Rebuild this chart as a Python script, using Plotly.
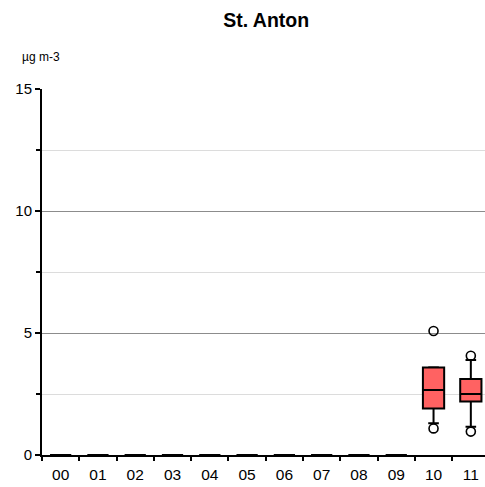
import plotly.graph_objects as go

categories = ["00", "01", "02", "03", "04", "05", "06", "07", "08", "09", "10", "11"]
q1 = [0, 0, 0, 0, 0, 0, 0, 0, 0, 0, 1.91, 2.19]
median = [0, 0, 0, 0, 0, 0, 0, 0, 0, 0, 2.66, 2.50]
q3 = [0, 0, 0, 0, 0, 0, 0, 0, 0, 0, 3.59, 3.11]
lowerfence = [0, 0, 0, 0, 0, 0, 0, 0, 0, 0, 1.30, 1.16]
upperfence = [0, 0, 0, 0, 0, 0, 0, 0, 0, 0, 3.60, 3.89]
outlier_x = ["10", "10", "11", "11"]
outlier_y = [5.08, 1.09, 4.07, 0.96]

FONT = "Liberation Sans, Arial, sans-serif"

fig = go.Figure()
fig.add_trace(go.Box(
    x=categories, q1=q1, median=median, q3=q3,
    lowerfence=lowerfence, upperfence=upperfence,
    width=0.57, whiskerwidth=0.5,
    fillcolor="#FF6262", line=dict(color="black", width=2),
    boxpoints=False, showlegend=False, hoverinfo="skip",
))
fig.add_trace(go.Scatter(
    x=outlier_x, y=outlier_y, mode="markers",
    marker=dict(symbol="circle-open", size=9, color="black", line=dict(width=1.6, color="black")),
    showlegend=False, hoverinfo="skip",
))

fig.update_layout(
    width=485, height=487,
    margin=dict(l=42, r=0, t=89, b=32),
    paper_bgcolor="white", plot_bgcolor="white",
    font=dict(family=FONT, size=15, color="black"),
    title=dict(text="<b>St. Anton</b>", x=0.506, xref="paper", xanchor="center",
               y=0.958, yanchor="middle", font=dict(size=19.5, color="black")),
    annotations=[dict(text="µg m-3", xref="paper", yref="paper", x=-0.0497, y=1.0874,
                      xanchor="left", yanchor="middle",
                      showarrow=False, font=dict(size=12))],
)

fig.update_xaxes(
    type="category", categoryorder="array", categoryarray=categories,
    range=[-0.5, 11.38], showgrid=False, zeroline=False,
    showline=True, linecolor="black", linewidth=2,
    ticks="outside", tickson="boundaries", ticklen=4, tickwidth=1.5, tickcolor="black",
    tickfont=dict(size=15.5), ticklabelstandoff=4,
)
fig.update_yaxes(
    range=[0, 15], tickvals=[0, 5, 10, 15], showgrid=True, gridcolor="#8c8c8c", gridwidth=1.2,
    zeroline=False, showline=True, linecolor="black", linewidth=2,
    ticks="outside", ticklen=5, tickwidth=1.5, tickcolor="black",
    tickfont=dict(size=15),
    minor=dict(tickvals=[2.5, 7.5, 12.5], ticks="outside", ticklen=4, tickwidth=1.5,
               tickcolor="black", showgrid=True, gridcolor="#dcdcdc", gridwidth=1.2),
)

fig.write_html("out.html")
